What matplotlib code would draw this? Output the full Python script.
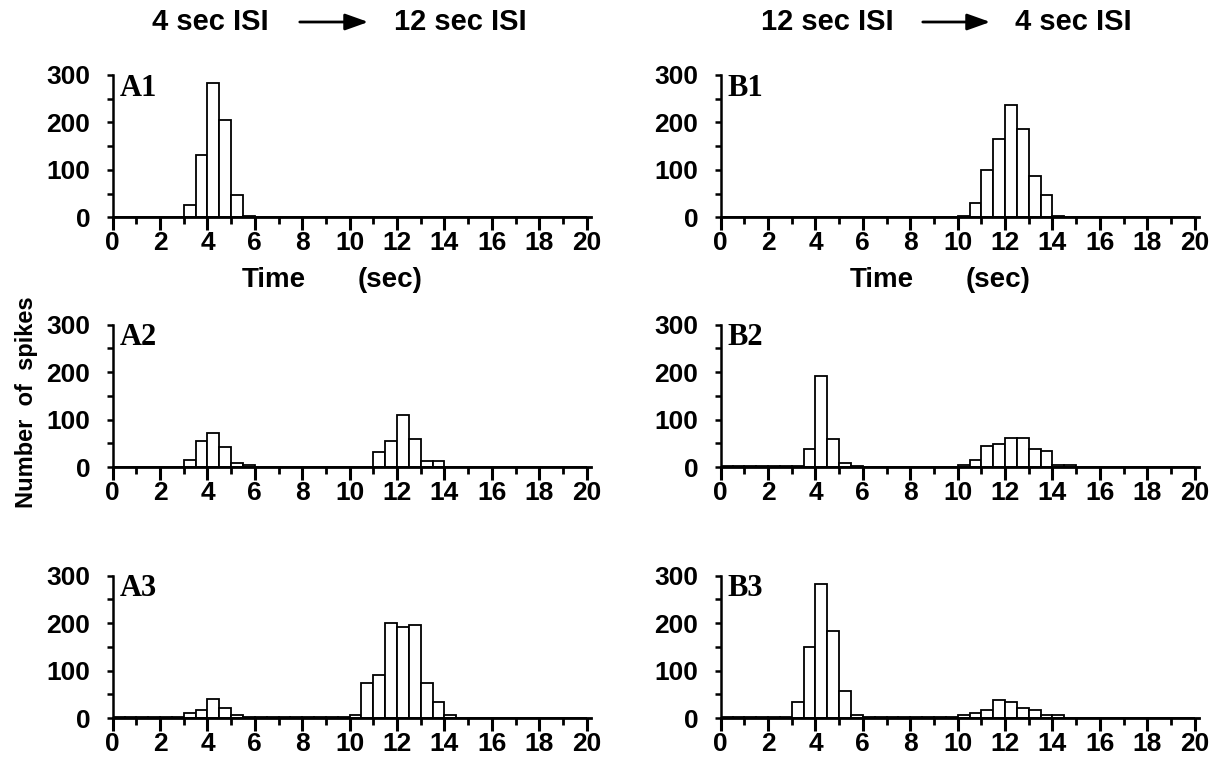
import matplotlib
matplotlib.use("Agg")
import matplotlib.pyplot as plt
import numpy as np
from matplotlib.ticker import MultipleLocator

# spike counts per 0.5 s bin, 0-20 s (40 bins)
a1_counts = [0, 0, 0, 0, 0, 0, 25, 132, 284, 204, 47, 3, 1, 0, 0, 0, 0, 0, 0, 0,
             0, 0, 0, 0, 0, 0, 0, 0, 0, 0, 0, 0, 0, 0, 0, 0, 0, 0, 0, 0]
a2_counts = [0, 0, 0, 0, 0, 0, 14, 54, 71, 42, 9, 4, 1, 0, 0, 0, 0, 0, 0, 0,
             0, 0, 31, 54, 109, 59, 13, 13, 0, 0, 0, 0, 0, 0, 0, 0, 0, 0, 0, 0]
a3_counts = [2, 2, 2, 2, 2, 2, 10, 16, 40, 22, 6, 2, 2, 2, 2, 2, 2, 2, 2, 2,
             6, 73, 90, 201, 192, 196, 73, 33, 6, 1, 1, 0, 0, 0, 0, 0, 0, 0, 0, 0]
b1_counts = [1, 1, 1, 1, 1, 1, 1, 1, 1, 1, 1, 1, 1, 1, 1, 1, 1, 1, 1, 1,
             3, 31, 99, 164, 237, 186, 86, 47, 3, 1, 0, 0, 0, 0, 0, 0, 0, 0, 0, 0]
b2_counts = [2, 2, 2, 2, 2, 2, 2, 37, 192, 60, 8, 2, 1, 1, 1, 1, 1, 1, 1, 1,
             5, 15, 45, 49, 61, 61, 38, 33, 5, 5, 1, 0, 0, 0, 0, 0, 0, 0, 0, 0]
b3_counts = [2, 2, 2, 2, 2, 2, 34, 150, 283, 184, 56, 6, 2, 2, 2, 2, 2, 2, 2, 2,
             6, 11, 17, 39, 33, 22, 17, 6, 6, 1, 1, 0, 0, 0, 0, 0, 0, 0, 0, 0]

bin_width = 0.5
bin_left = np.arange(40) * bin_width

panels = [("A1", a1_counts), ("A2", a2_counts), ("A3", a3_counts),
          ("B1", b1_counts), ("B2", b2_counts), ("B3", b3_counts)]

sans = ["Liberation Sans", "DejaVu Sans"]
serif = ["Liberation Serif", "DejaVu Serif"]

fig = plt.figure(figsize=(12.18, 7.61), dpi=100)

col_left = [0.0925, 0.5917]
col_width = 0.3930
row_bottom = [0.7145, 0.3863, 0.0565]
row_height = 0.187

axes = {}
for name, counts in panels:
    col = 0 if name[0] == "A" else 1
    row = int(name[1]) - 1
    ax = fig.add_axes([col_left[col], row_bottom[row], col_width, row_height])
    ax.bar(bin_left, counts, width=bin_width, align="edge",
           facecolor="white", edgecolor="black", linewidth=1.3, zorder=2)
    ax.set_xlim(0, 20.2)
    ax.set_ylim(0, 300)
    ax.spines["top"].set_visible(False)
    ax.spines["right"].set_visible(False)
    ax.spines["left"].set_linewidth(1.8)
    ax.spines["bottom"].set_linewidth(2.0)
    ax.spines["left"].set_bounds(0, 300)
    ax.xaxis.set_major_locator(MultipleLocator(2))
    ax.xaxis.set_minor_locator(MultipleLocator(1))
    ax.yaxis.set_major_locator(MultipleLocator(100))
    ax.yaxis.set_minor_locator(MultipleLocator(50))
    ax.tick_params(axis="x", which="major", direction="out", length=9, width=2.2, pad=1)
    ax.tick_params(axis="x", which="minor", direction="out", length=5, width=2.0)
    ax.tick_params(axis="y", which="both", direction="out", length=4, width=1.8, pad=12)
    for lab in ax.get_xticklabels() + ax.get_yticklabels():
        lab.set_fontfamily(sans)
        lab.set_fontweight("bold")
        lab.set_fontsize(19)
    ax.text(0.015, 1.01, name, transform=ax.transAxes, ha="left", va="top",
            family=serif, fontweight="bold", fontsize=22)
    axes[name] = ax

# axis captions under the top panels
for name in ["A1", "B1"]:
    ax = axes[name]
    ax.text(6.8, -132, "Time", ha="center", va="center", family=sans,
            fontweight="bold", fontsize=20, clip_on=False)
    ax.text(11.7, -132, "(sec)", ha="center", va="center", family=sans,
            fontweight="bold", fontsize=20, clip_on=False)

fig.text(0.0215, 1 - 402 / 761, "Number  of  spikes", rotation=90, ha="center",
         va="center", family=sans, fontweight="bold", fontsize=17)

# column headings with arrows
title_y = 1 - 22 / 761
headings = [("4 sec ISI", "12 sec ISI", 210, 460, 297, 371),
            ("12 sec ISI", "4 sec ISI", 827, 1073, 920, 993)]
for left_txt, right_txt, lx, rx, ax0, ax1 in headings:
    fig.text(lx / 1218, title_y, left_txt, ha="center", va="center",
             family=sans, fontweight="bold", fontsize=21)
    fig.text(rx / 1218, title_y, right_txt, ha="center", va="center",
             family=sans, fontweight="bold", fontsize=21)
    fig.patches.append(matplotlib.patches.FancyArrowPatch(
        (ax0 / 1218, title_y), (ax1 / 1218, title_y), transform=fig.transFigure,
        arrowstyle="-|>,head_length=14,head_width=5", mutation_scale=1,
        linewidth=2.0, color="black"))

fig.savefig("out.png", dpi=100, facecolor="white")
